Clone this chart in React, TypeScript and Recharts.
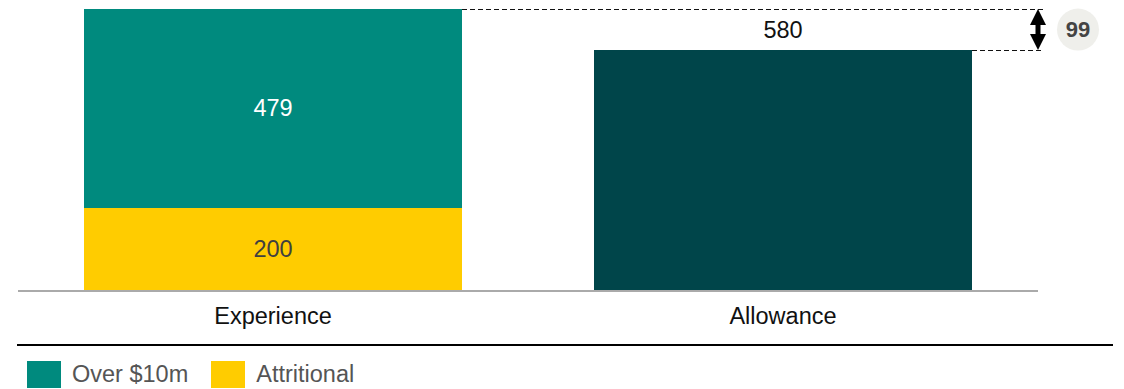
import { BarChart, Bar, XAxis, YAxis, LabelList } from "recharts";

const categories = ["Experience", "Allowance"];
const attritional = [200, 0];
const over10m = [479, 0];
const allowance = [0, 580];

const series = [
  { key: "attritional", name: "Attritional", color: "#FFCC00" },
  { key: "over10m", name: "Over $10m", color: "#008A7E" },
  { key: "allowance", name: "Allowance", color: "#00454A" },
];
const legendItems = [series[1], series[0]];

const FONT = "'Liberation Sans', Arial, sans-serif";
const FS = 23.5;
const STEP = 510;

const data = categories.map((name, i) => ({
  name,
  attritional: attritional[i],
  over10m: over10m[i],
  allowance: allowance[i],
}));

const experienceTotal = attritional[0] + over10m[0];

function centerLabel(fill: string) {
  return (props: any) => {
    const { x, y, width, height, value } = props;
    if (!value) return null;
    return (
      <text
        x={x + width / 2}
        y={y + height / 2}
        textAnchor="middle"
        dominantBaseline="central"
        fontSize={FS}
        fontFamily={FONT}
        fill={fill}
      >
        {value}
      </text>
    );
  };
}

function AllowanceLabel(props: any) {
  const { x, y, width, height, value } = props;
  if (!value) return null;
  const diff = experienceTotal - value;
  const topY = y - (height * diff) / value;
  const expRight = x - STEP + width;
  const ax = x + width + 66;
  const cy = (topY + y) / 2;
  // crisp 1px dashed lines
  const ly1 = Math.floor(topY) + 0.5;
  const ly2 = Math.floor(y) + 0.5;
  return (
    <g>
      <text
        x={x + width / 2}
        y={y - 12}
        textAnchor="middle"
        fontSize={FS}
        fontFamily={FONT}
        fill="#111"
      >
        {value}
      </text>
      <line x1={expRight} y1={ly1} x2={ax + 7} y2={ly1} stroke="#111" strokeDasharray="5 3" />
      <line x1={x + width} y1={ly2} x2={ax + 6} y2={ly2} stroke="#111" strokeDasharray="5 3" />
      <polygon points={`${ax},${topY} ${ax - 8},${topY + 16} ${ax + 8},${topY + 16}`} fill="#000" />
      <polygon points={`${ax},${y} ${ax - 8},${y - 16} ${ax + 8},${y - 16}`} fill="#000" />
      <rect x={ax - 2.5} y={topY + 15} width={5} height={y - topY - 30} fill="#000" />
      <circle cx={ax + 40} cy={cy} r={21} fill="#EFEFEB" />
      <text
        x={ax + 40}
        y={cy}
        textAnchor="middle"
        dominantBaseline="central"
        fontSize={22}
        fontWeight="bold"
        fontFamily={FONT}
        fill="#444"
      >
        {diff}
      </text>
    </g>
  );
}

export default function App() {
  return (
    <div style={{ position: "absolute", left: 0, top: 0, width: 1124, height: 389, background: "#fff", fontFamily: FONT }}>
      <BarChart
        width={1124}
        height={389}
        data={data}
        margin={{ top: 9, right: 86, left: 18, bottom: 0 }}
        barSize={378}
      >
        <XAxis
          dataKey="name"
          height={98}
          tickLine={false}
          tickMargin={10}
          axisLine={{ stroke: "#AAAAAA", strokeWidth: 2 }}
          tick={{ fontSize: FS, fill: "#111", fontFamily: FONT }}
        />
        <YAxis hide domain={[0, experienceTotal]} />
        {series.map((s) => (
          <Bar key={s.key} dataKey={s.key} name={s.name} stackId="a" fill={s.color} isAnimationActive={false}>
            {s.key === "attritional" && <LabelList dataKey={s.key} content={centerLabel("#404040")} />}
            {s.key === "over10m" && <LabelList dataKey={s.key} content={centerLabel("#FFFFFF")} />}
            {s.key === "allowance" && <LabelList dataKey={s.key} content={AllowanceLabel} />}
          </Bar>
        ))}
      </BarChart>
      <div style={{ position: "absolute", left: 17, top: 344, width: 1096, height: 2, background: "#000" }} />
      <div style={{ position: "absolute", left: 27, top: 361, display: "flex", alignItems: "center" }}>
        {legendItems.map((s) => (
          <div key={s.key} style={{ display: "flex", alignItems: "center", marginRight: 23 }}>
            <div style={{ width: 34, height: 27, background: s.color, marginRight: 11 }} />
            <span style={{ fontSize: FS, color: "#555", lineHeight: "27px" }}>{s.name}</span>
          </div>
        ))}
      </div>
    </div>
  );
}
